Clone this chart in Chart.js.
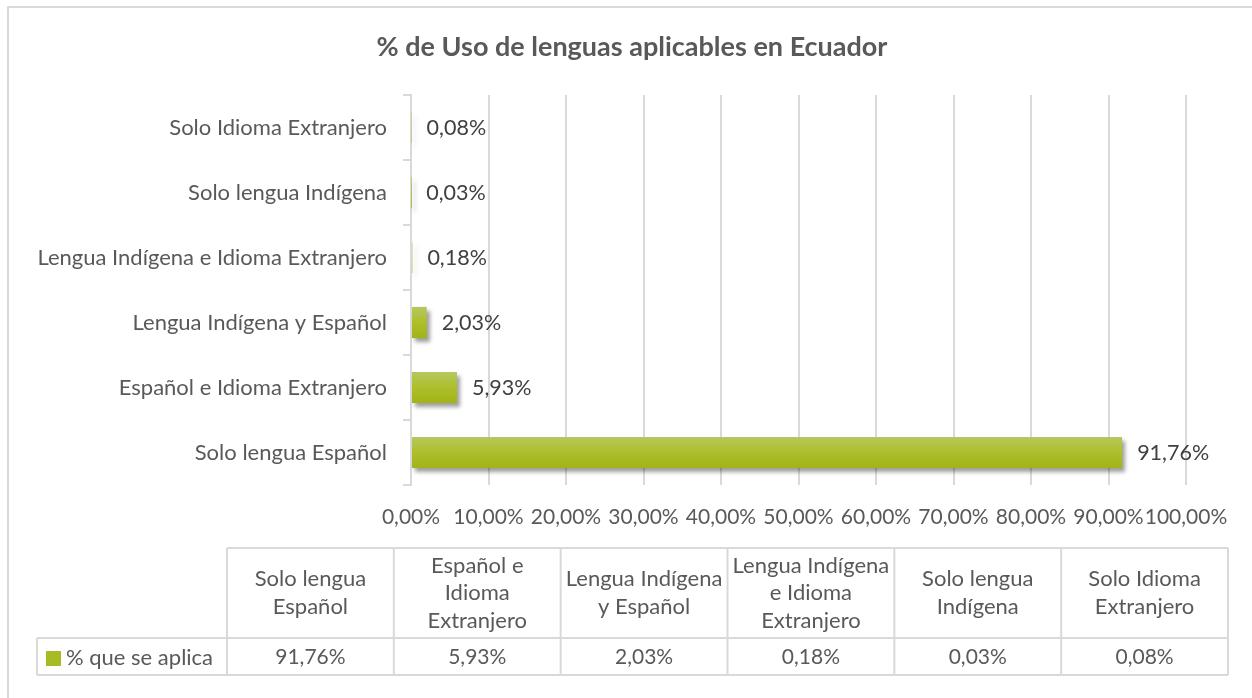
<!DOCTYPE html>
<html>
<head>
<meta charset="utf-8">
<script src="https://cdn.jsdelivr.net/npm/chart.js@4.4.0/dist/chart.umd.min.js"></script>
<style>
  html, body { margin: 0; padding: 0; background: #ffffff; }
  #wrap { width: 1252px; height: 698px; }
</style>
</head>
<body>
<div id="wrap"><canvas id="LenguasChart" width="1252" height="698"></canvas></div>
<script>
// datos
const categorias = ["Solo lengua Español", "Español e Idioma Extranjero", "Lengua Indígena y Español",
    "Lengua Indígena e Idioma Extranjero", "Solo lengua Indígena", "Solo Idioma Extranjero"];
const valores = [91.76, 5.93, 2.03, 0.18, 0.03, 0.08];
const encabezadosTabla = [["Solo lengua", "Español"], ["Español e", "Idioma", "Extranjero"],
    ["Lengua Indígena", "y Español"], ["Lengua Indígena", "e Idioma", "Extranjero"],
    ["Solo lengua", "Indígena"], ["Solo Idioma", "Extranjero"]];
const nombreSerie = "% que se aplica";
const titulo = "% de Uso de lenguas aplicables en Ecuador";

const FUENTE = "Lato, 'Open Sans', sans-serif";
const GRIS = "#595959";
const LINEA = "#d9d9d9";
const PORC_BARRA = 0.48;

function pct(v) {
    return v.toFixed(2).replace(".", ",") + "%";
}

// fondo, borde y titulo del grafico
const fondo = {
    id: "fondo",
    beforeDraw(chart) {
        const ctx = chart.ctx;
        ctx.save();
        ctx.fillStyle = "#ffffff";
        ctx.fillRect(0, 0, chart.width, chart.height);
        ctx.strokeStyle = LINEA;
        ctx.lineWidth = 2;
        ctx.beginPath();
        ctx.moveTo(8, chart.height);
        ctx.lineTo(8, 7);
        ctx.lineTo(chart.width, 7);
        ctx.stroke();
        ctx.font = "bold 27px " + FUENTE;
        ctx.fillStyle = GRIS;
        ctx.textAlign = "center";
        ctx.textBaseline = "middle";
        ctx.fillText(titulo, 632, 47);
        ctx.restore();
    }
};

// sombra de las barras
const sombra = {
    id: "sombra",
    beforeDatasetDraw(chart) {
        const ctx = chart.ctx;
        ctx.save();
        ctx.shadowColor = "rgba(0,0,0,0.38)";
        ctx.shadowOffsetX = 3;
        ctx.shadowOffsetY = 4;
        ctx.shadowBlur = 4;
    },
    afterDatasetDraw(chart) {
        chart.ctx.restore();
    }
};

// etiquetas de datos
const etiquetas = {
    id: "etiquetas",
    afterDatasetsDraw(chart) {
        const ctx = chart.ctx;
        const meta = chart.getDatasetMeta(0);
        ctx.save();
        ctx.font = "21.5px " + FUENTE;
        ctx.fillStyle = "#404040";
        ctx.textAlign = "left";
        ctx.textBaseline = "middle";
        meta.data.forEach((bar, i) => {
            ctx.fillText(pct(valores[i]), bar.x + 15, bar.y + 1);
        });
        ctx.restore();
    }
};

// tabla de datos debajo del grafico
const tabla = {
    id: "tabla",
    afterDraw(chart) {
        const ctx = chart.ctx;
        const x0 = 227, x1 = 1228, izq = 37;
        const yTop = 548, yMid = 638, yBot = 675;
        const ancho = (x1 - x0) / categorias.length;
        ctx.save();
        ctx.strokeStyle = LINEA;
        ctx.lineWidth = 2;
        ctx.beginPath();
        ctx.moveTo(x0, yTop); ctx.lineTo(x1, yTop);
        ctx.moveTo(izq, yMid); ctx.lineTo(x1, yMid);
        ctx.moveTo(izq, yBot); ctx.lineTo(x1, yBot);
        ctx.moveTo(izq, yMid); ctx.lineTo(izq, yBot);
        for (let i = 0; i <= categorias.length; i++) {
            ctx.moveTo(x0 + i * ancho, yTop);
            ctx.lineTo(x0 + i * ancho, yBot);
        }
        ctx.stroke();

        ctx.fillStyle = GRIS;
        ctx.textAlign = "center";
        ctx.textBaseline = "middle";
        const alto = 27.5;
        encabezadosTabla.forEach((lineas, i) => {
            const cx = x0 + (i + 0.5) * ancho;
            const cy = (yTop + yMid) / 2 - (lineas.length - 1) * alto / 2;
            ctx.font = "22px " + FUENTE;
            lineas.forEach((t, j) => ctx.fillText(t, cx, cy + j * alto));
            ctx.font = "21px " + FUENTE;
            ctx.fillText(pct(valores[i]), cx, (yMid + yBot) / 2 + 1);
        });

        // leyenda de la serie
        ctx.fillStyle = "#a9bb24";
        ctx.fillRect(46, 651, 15, 15);
        ctx.fillStyle = GRIS;
        ctx.textAlign = "left";
        ctx.font = "22px " + FUENTE;
        ctx.fillText(nombreSerie, 66, (yMid + yBot) / 2 + 1);
        ctx.restore();
    }
};

function colorBarra(c) {
    const ch = c.chart;
    const ys = ch.scales && ch.scales.y;
    if (!ch.chartArea || !ys) return "#a9bb24";
    const centro = ys.getPixelForValue(c.dataIndex);
    const h = (ch.chartArea.height / categorias.length) * PORC_BARRA;
    if (!isFinite(centro) || !isFinite(h)) return "#a9bb24";
    const g = ch.ctx.createLinearGradient(0, centro - h / 2, 0, centro + h / 2);
    g.addColorStop(0, "#b6c760");
    g.addColorStop(0.5, "#adbf2a");
    g.addColorStop(1, "#a2b317");
    return g;
}

let canvas = document.getElementById("LenguasChart").getContext("2d");
let lenguasChart = new Chart(canvas, {
    type: "bar",
    data: {
        labels: categorias,
        datasets: [{
            label: nombreSerie,
            data: valores,
            backgroundColor: colorBarra,
            borderWidth: 0,
            barPercentage: PORC_BARRA,
            categoryPercentage: 1
        }]
    },
    options: {
        indexAxis: "y",
        responsive: false,
        animation: false,
        layout: { padding: { left: 0, right: 66, top: 95, bottom: 169 } },
        plugins: {
            legend: { display: false },
            tooltip: { enabled: false },
            title: { display: false }
        },
        scales: {
            x: {
                min: 0,
                max: 100,
                ticks: {
                    stepSize: 10,
                    autoSkip: false,
                    maxRotation: 0,
                    padding: 20,
                    color: GRIS,
                    font: { family: FUENTE, size: 21 },
                    callback: (v) => pct(v)
                },
                grid: { color: LINEA, lineWidth: 2, drawTicks: false },
                border: { display: false },
                afterFit: (s) => { s.height = 44; }
            },
            y: {
                reverse: true,
                ticks: {
                    padding: 16,
                    color: GRIS,
                    font: { family: FUENTE, size: 22 }
                },
                grid: { color: LINEA, lineWidth: 2, drawOnChartArea: false, tickLength: 8 },
                border: { display: true, color: LINEA, width: 2 },
                afterFit: (s) => { s.width = 411; }
            }
        }
    },
    plugins: [fondo, sombra, etiquetas, tabla]
});
</script>
</body>
</html>
